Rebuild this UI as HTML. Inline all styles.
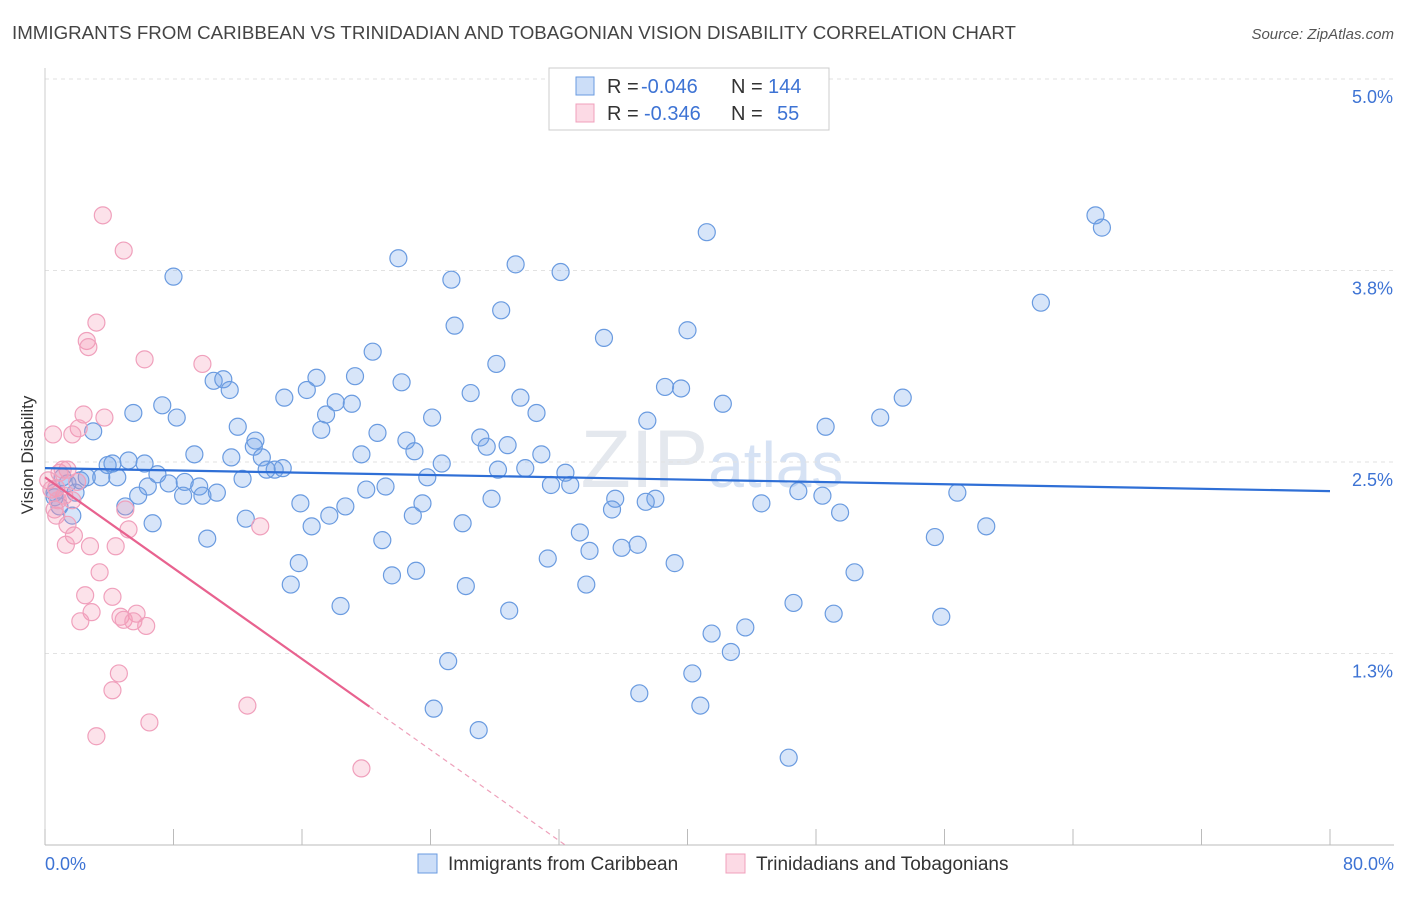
<!DOCTYPE html>
<html><head><meta charset="utf-8">
<style>
body{margin:0;background:#fff;font-family:"Liberation Sans",sans-serif;}
svg text{font-family:"Liberation Sans",sans-serif;}
</style></head>
<body>
<svg id="chart" width="1406" height="892" xmlns="http://www.w3.org/2000/svg">
<text x="12" y="39" font-size="18" fill="#444" textLength="1004" lengthAdjust="spacingAndGlyphs">IMMIGRANTS FROM CARIBBEAN VS TRINIDADIAN AND TOBAGONIAN VISION DISABILITY CORRELATION CHART</text>
<text x="1394" y="39" font-size="15" fill="#555" text-anchor="end" font-style="italic">Source: ZipAtlas.com</text>
<text x="712" y="487" font-size="82" fill="#e4e8ee" text-anchor="middle" font-family="Liberation Serif">ZIP<tspan fill="#d6e2f4" font-family="Liberation Sans" font-size="64">atlas</tspan></text>
<g id="grid"></g>
<g id="axes"></g>
<g id="marks"></g>
<g id="trends"></g>
<g>
<rect x="549" y="68" width="280" height="62" fill="#fff" stroke="#ccc"/>
<rect x="576" y="77" width="18" height="18" fill="rgba(110,160,235,0.35)" stroke="#6a9be0"/>
<rect x="576" y="104" width="18" height="18" fill="rgba(245,150,180,0.35)" stroke="#f0a0bc"/>
<text x="607" y="93" font-size="20" fill="#333">R = <tspan x="641" fill="#3d73d4">-0.046</tspan><tspan x="731" fill="#333">N = </tspan><tspan x="768" fill="#3d73d4">144</tspan></text>
<text x="607" y="120" font-size="20" fill="#333">R = <tspan x="644" fill="#3d73d4">-0.346</tspan><tspan x="731" fill="#333">N = </tspan><tspan x="777" fill="#3d73d4">55</tspan></text>
</g>
<g>
<rect x="418" y="854" width="19" height="19" fill="rgba(110,160,235,0.35)" stroke="#6a9be0"/>
<text x="448" y="870" font-size="19" fill="#333">Immigrants from Caribbean</text>
<rect x="726" y="854" width="19" height="19" fill="rgba(245,150,180,0.35)" stroke="#f0a0bc"/>
<text x="756" y="870" font-size="19" fill="#333">Trinidadians and Tobagonians</text>
</g>
<text transform="translate(33,455) rotate(-90)" font-size="17" fill="#333" text-anchor="middle">Vision Disability</text>
</svg>
<script>
const xTickLabels=["0.0%","80.0%"];
const yTickValues=[1.25,2.5,3.75,5.0];
const yTickLabels=["1.3%","2.5%","3.8%","5.0%"];
const blueX=[8.0,22.0,25.3,29.3,32.1,41.2,65.4,65.8,62.0,25.5,28.4,34.8,40.0,20.4,28.1,10.5,11.1,11.5,16.9,19.3,22.2,16.3,14.9,7.3,8.2,5.5,17.5,18.1,19.1,26.5,29.6,30.6,38.6,39.6,42.2,53.4,52.0,48.6,37.5,24.1,3.0,12.0,13.1,13.0,20.7,22.5,27.1,27.5,28.8,30.9,19.7,17.2,9.3,11.6,13.5,14.3,13.8,14.8,4.2,5.2,6.2,3.9,4.5,3.5,7.0,6.4,7.7,8.7,9.6,10.7,8.6,9.8,5.8,12.3,23.0,24.7,28.2,29.9,32.4,31.5,32.7,20.0,21.2,23.8,27.8,35.5,38.0,37.4,35.3,23.5,22.9,15.9,18.7,17.7,16.6,12.5,5.0,6.7,26.0,33.3,33.9,35.9,36.9,31.3,39.2,21.0,10.1,15.8,23.1,21.6,15.3,26.2,33.7,18.4,28.9,44.6,46.9,48.4,49.5,56.8,58.6,55.4,50.4,46.6,49.1,55.8,41.5,43.6,42.7,40.3,25.1,37.0,40.8,24.2,27.0,46.3,1.4,0.6,0.9,1.7,0.6,1.1,1.9,2.2,2.6];
const blueY=[3.71,3.83,3.69,3.79,3.74,4.00,4.11,4.03,3.54,3.39,3.49,3.31,3.36,3.22,3.14,3.03,3.04,2.97,3.05,3.06,3.02,2.97,2.92,2.87,2.79,2.82,2.81,2.89,2.88,2.95,2.92,2.82,2.99,2.98,2.88,2.92,2.79,2.73,2.77,2.79,2.70,2.73,2.64,2.60,2.69,2.64,2.66,2.60,2.61,2.55,2.55,2.71,2.55,2.53,2.53,2.45,2.45,2.46,2.49,2.51,2.49,2.48,2.40,2.40,2.42,2.34,2.36,2.37,2.34,2.30,2.28,2.28,2.28,2.39,2.57,2.49,2.45,2.46,2.43,2.35,2.35,2.32,2.34,2.40,2.26,2.26,2.26,2.24,2.19,2.23,2.15,2.23,2.21,2.15,2.08,2.13,2.21,2.10,2.10,2.04,1.92,1.94,1.96,1.87,1.84,1.99,2.00,1.84,1.79,1.76,1.70,1.69,1.70,1.56,1.53,2.23,2.31,2.28,2.17,2.30,2.08,2.01,1.78,1.58,1.51,1.49,1.38,1.42,1.26,1.12,1.20,0.99,0.91,0.89,0.75,0.57,2.36,2.30,2.21,2.15,2.27,2.40,2.30,2.38,2.40];
const pinkX=[3.6,4.9,3.2,2.6,2.7,6.2,9.8,2.4,3.7,2.1,0.5,1.7,1.4,0.9,2.0,0.7,1.2,1.7,0.6,0.7,5.0,13.4,1.4,1.8,5.2,1.3,2.8,4.4,3.4,2.5,4.2,2.9,4.7,5.7,4.9,5.5,6.3,2.2,4.6,4.2,12.6,6.5,3.2,19.7,0.2,0.4,0.8,1.1];
const pinkY=[4.11,3.88,3.41,3.29,3.25,3.17,3.14,2.81,2.79,2.72,2.68,2.68,2.45,2.43,2.37,2.33,2.28,2.25,2.19,2.15,2.19,2.08,2.09,2.02,2.06,1.96,1.95,1.95,1.78,1.63,1.62,1.52,1.49,1.51,1.47,1.46,1.43,1.46,1.12,1.01,0.91,0.80,0.71,0.50,2.38,2.32,2.25,2.45];
const blueTrend=[2.46,2.31];
const pinkTrend=[2.40,-0.0741];
const pinkSolidEnd=20.2;

const NS="http://www.w3.org/2000/svg";
const X0=45,X1=1330,Y0=845,PXY=153.2;
const sx=v=>X0+(v/80)*(X1-X0);
const sy=v=>Y0-v*PXY;
function mk(tag,attrs,parent){const e=document.createElementNS(NS,tag);for(const k in attrs)e.setAttribute(k,attrs[k]);parent.appendChild(e);return e;}
const grid=document.getElementById('grid'),axes=document.getElementById('axes'),marks=document.getElementById('marks'),trends=document.getElementById('trends');
yTickValues.forEach((v,i)=>{
 const l=mk('line',{x1:X0,x2:1394,y1:sy(v),y2:sy(v),stroke:'#e2e2e2','stroke-dasharray':'4,4'},grid);
 
 
 const t=mk('text',{x:1393,y:sy(v)+24,'font-size':18,fill:'#3d73d4','text-anchor':'end'},axes);
 t.textContent=yTickLabels[i];
 
 
});
const ax=mk('line',{x1:X0,x2:1394,y1:Y0,y2:Y0,stroke:'#bbb'},axes);


const ay=mk('line',{x1:X0,x2:X0,y1:68,y2:Y0,stroke:'#ccc'},axes);


for(let i=0;i<=10;i++){
 const tk=mk('line',{x1:sx(i*8),x2:sx(i*8),y1:Y0,y2:Y0-16,stroke:'#bbb'},axes);
 
 
}
[[0,'start',X0],[80,'end',1394]].forEach((d,i)=>{
 const t=mk('text',{x:d[2],y:870,'font-size':18,fill:'#3d73d4','text-anchor':d[1]},axes);
 t.textContent=xTickLabels[i];
 
 
});
blueX.forEach((x,i)=>{
 const c=mk('circle',{cx:sx(x),cy:sy(blueY[i]),r:8.5,fill:'rgba(110,160,235,0.28)',stroke:'#6a9be0','stroke-width':1.2},marks);
 
 
});
pinkX.forEach((x,i)=>{
 const c=mk('circle',{cx:sx(x),cy:sy(pinkY[i]),r:8.5,fill:'rgba(245,150,180,0.28)',stroke:'#f0a0bc','stroke-width':1.2},marks);
 
 
});
const bt=mk('line',{x1:sx(0),y1:sy(blueTrend[0]),x2:sx(80),y2:sy(blueTrend[1]),stroke:'#2f6fd6','stroke-width':2.2},trends);


const pf=x=>pinkTrend[0]+pinkTrend[1]*x;
const pzero=-pinkTrend[0]/pinkTrend[1];
const ps=mk('line',{x1:sx(0),y1:sy(pf(0)),x2:sx(pinkSolidEnd),y2:sy(pf(pinkSolidEnd)),stroke:'#e8628f','stroke-width':2.2},trends);


const pd=mk('line',{x1:sx(pinkSolidEnd),y1:sy(pf(pinkSolidEnd)),x2:sx(pzero),y2:sy(0),stroke:'#eea0ba','stroke-width':1.2,'stroke-dasharray':'5,4'},trends);


</script>
</body></html>
